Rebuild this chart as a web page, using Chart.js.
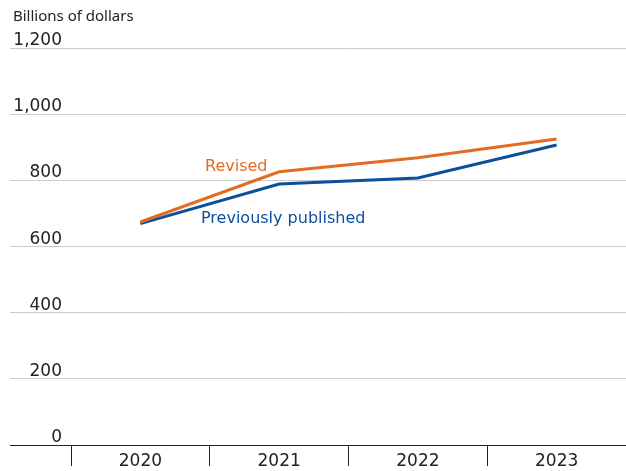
<!DOCTYPE html>
<html>
<head>
<meta charset="utf-8">
<script src="https://cdn.jsdelivr.net/npm/chart.js@4/dist/chart.umd.min.js"></script>
<style>
  html, body { margin: 0; padding: 0; background: #fff; }
  #wrap { width: 626px; height: 471px; position: relative; }
</style>
</head>
<body>
<div id="wrap"><canvas id="bpChart"></canvas></div>
<script>
// data
const years = ['2020', '2021', '2022', '2023'];
const revised = [674, 826, 868, 925];
const previous = [669, 789, 807, 907];
const yTicks = [0, 200, 400, 600, 800, 1000, 1200];
const yTickLabels = ['0', '200', '400', '600', '800', '1,000', '1,200'];
const unitLabel = 'Billions of dollars';
const seriesNames = ['Revised', 'Previously published'];

const TITLE_FONT = '"Noto Sans", sans-serif';
const FONT = '"DejaVu Sans", sans-serif';
const ORANGE = '#e36c24';
const BLUE = '#0c4f9c';

// y labels sit above the gridlines, plus the unit label and series names
const textPlugin = {
    id: 'textPlugin',
    afterDraw(chart) {
        const ctx = chart.ctx;
        const y = chart.scales.y;
        ctx.save();
        ctx.font = '15px ' + TITLE_FONT;
        ctx.fillStyle = '#222';
        ctx.textAlign = 'left';
        ctx.textBaseline = 'alphabetic';
        ctx.fillText(unitLabel, 13, 21);

        ctx.font = '17px ' + FONT;
        ctx.textAlign = 'right';
        yTicks.forEach((v, i) => {
            ctx.fillText(yTickLabels[i], 62, y.getPixelForValue(v) - 3);
        });

        ctx.textAlign = 'left';
        ctx.font = '16px ' + FONT;
        ctx.fillStyle = ORANGE;
        ctx.fillText(seriesNames[0], 205, 171);
        ctx.fillStyle = BLUE;
        ctx.fillText(seriesNames[1], 201, 223);
        ctx.restore();
    }
};

const ctx = document.getElementById('bpChart').getContext('2d');
const chart = new Chart(ctx, {
    type: 'line',
    data: {
        labels: years,
        datasets: [
            {
                label: seriesNames[0],
                data: revised,
                borderColor: ORANGE,
                borderWidth: 3,
                pointRadius: 0,
                fill: false
            },
            {
                label: seriesNames[1],
                data: previous,
                borderColor: BLUE,
                borderWidth: 3,
                pointRadius: 0,
                fill: false
            }
        ]
    },
    options: {
        responsive: true,
        maintainAspectRatio: false,
        animation: false,
        layout: { padding: { top: 48, left: 10, right: 0, bottom: 0 } },
        plugins: {
            legend: { display: false },
            tooltip: { enabled: false }
        },
        scales: {
            x: {
                offset: true,
                afterFit: axis => { axis.height = 26; },
                border: { display: false },
                grid: {
                    offset: true,
                    drawOnChartArea: false,
                    tickLength: 21,
                    color: '#222'
                },
                ticks: {
                    padding: -15,
                    color: '#222',
                    font: { family: FONT, size: 17 }
                }
            },
            y: {
                min: 0,
                max: 1200,
                afterBuildTicks: axis => { axis.ticks = yTicks.map(v => ({ value: v })); },
                border: { display: false },
                grid: {
                    tickLength: 61,
                    color: c => c.tick && c.tick.value === 0 ? '#222' : '#c9cccc',
                    lineWidth: 1
                },
                ticks: { display: false }
            }
        }
    },
    plugins: [textPlugin]
});
</script>
</body>
</html>
